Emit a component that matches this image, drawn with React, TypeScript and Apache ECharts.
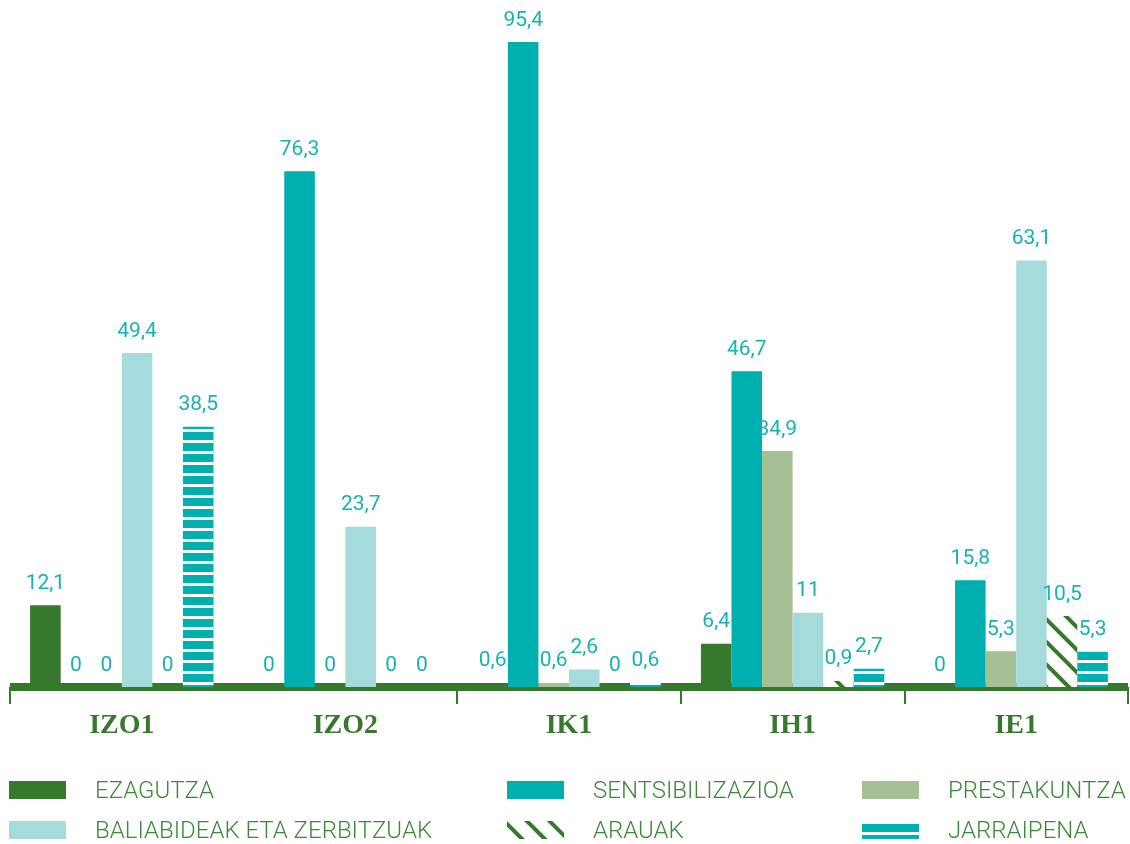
import React, { useEffect, useRef } from "react";
import * as echarts from "echarts";

const categories = ["IZO1", "IZO2", "IK1", "IH1", "IE1"];
const seriesNames = [
  "EZAGUTZA",
  "SENTSIBILIZAZIOA",
  "PRESTAKUNTZA",
  "BALIABIDEAK ETA ZERBITZUAK",
  "ARAUAK",
  "JARRAIPENA",
];
const ezagutza = [12.1, 0, 0.6, 6.4, 0];
const sentsibilizazioa = [0, 76.3, 95.4, 46.7, 15.8];
const prestakuntza = [0, 0, 0.6, 34.9, 5.3];
const baliabideak = [49.4, 23.7, 2.6, 11, 63.1];
const arauak = [0, 0, 0, 0.9, 10.5];
const jarraipena = [38.5, 0, 0.6, 2.7, 5.3];

const DARK_GREEN = "#37792c";
const TEAL = "#00afaf";
const SAGE = "#a6c096";
const LIGHT_CYAN = "#a6dbdb";
const LABEL_TEAL = "#17b2b2";
const LEGEND_GREEN = "#3d8a36";

export default function App() {
  const ref = useRef<HTMLDivElement>(null);
  useEffect(() => {
    if (!ref.current) return;
    const chart = echarts.init(ref.current, undefined, { renderer: "svg" });
    const label = {
      show: true,
      position: "top",
      distance: 13,
      color: LABEL_TEAL,
      fontSize: 21,
      fontFamily: "Roboto",
      formatter: (p: any) => String(p.value).replace(".", ","),
    };
    const mk = (name: string, data: number[], itemStyle: any) => ({
      name,
      type: "bar",
      data,
      barGap: 0,
      barCategoryGap: "18%",
      itemStyle,
      label,
      emphasis: { disabled: true },
    });
    const legendItem = (name: string, left: number, top: number) => ({
      orient: "horizontal",
      icon: "rect",
      padding: 0,
      left,
      top,
      itemWidth: 57,
      itemHeight: 18,
      selectedMode: false,
      data: [name],
      textStyle: {
        color: LEGEND_GREEN,
        fontSize: 24,
        fontFamily: "Roboto",
        fontWeight: 300,
        padding: [0, 0, 0, 24],
      },
    });
    chart.setOption({
      animation: false,
      grid: { left: 10, right: 2, top: 11, bottom: 157 },
      legend: [
        legendItem(seriesNames[0], 9, 778),
        legendItem(seriesNames[3], 9, 818),
        legendItem(seriesNames[1], 507, 778),
        legendItem(seriesNames[4], 507, 818),
        legendItem(seriesNames[2], 862, 778),
        legendItem(seriesNames[5], 862, 818),
      ],
      xAxis: {
        type: "category",
        data: categories,
        offset: 4,
        axisLine: { lineStyle: { color: DARK_GREEN, width: 8, cap: "butt" } },
        axisTick: {
          show: true,
          interval: (i: number) => i !== 1,
          length: 17,
          lineStyle: { color: DARK_GREEN, width: 2 },
        },
        axisLabel: {
          color: DARK_GREEN,
          fontFamily: "Liberation Serif",
          fontWeight: "bold",
          fontSize: 28,
          margin: 18,
        },
        splitLine: { show: false },
      },
      yAxis: { type: "value", min: 0, max: 100, show: false },
      series: [
        mk(seriesNames[0], ezagutza, { color: DARK_GREEN }),
        mk(seriesNames[1], sentsibilizazioa, { color: TEAL }),
        mk(seriesNames[2], prestakuntza, { color: SAGE }),
        mk(seriesNames[3], baliabideak, { color: LIGHT_CYAN }),
        mk(seriesNames[4], arauak, {
          color: "#ffffff",
          decal: {
            symbol: "rect",
            symbolSize: 1,
            color: DARK_GREEN,
            dashArrayX: [1, 0],
            dashArrayY: [4, 12],
            rotation: Math.PI / 4,
          },
        }),
        mk(seriesNames[5], jarraipena, {
          color: TEAL,
          decal: {
            symbol: "rect",
            symbolSize: 1,
            color: "#ffffff",
            dashArrayX: [1, 0],
            dashArrayY: [3, 8],
            rotation: 0,
          },
        }),
      ],
    });
    return () => chart.dispose();
  }, []);
  return (
    <div
      ref={ref}
      style={{ position: "fixed", left: 0, top: 0, width: 1130, height: 844 }}
    />
  );
}
